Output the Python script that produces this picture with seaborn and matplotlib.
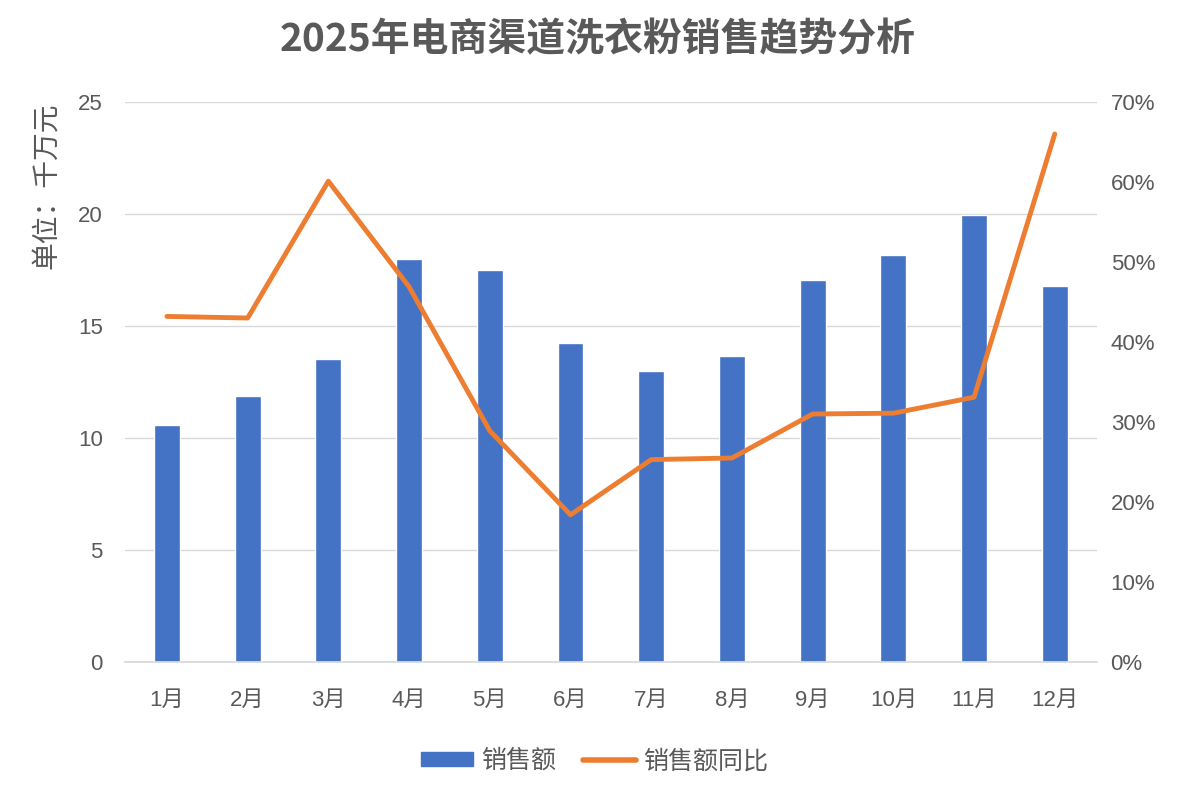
import pandas as pd
import matplotlib.pyplot as plt
import seaborn as sns
from matplotlib.patches import Patch
from matplotlib.lines import Line2D
from matplotlib.ticker import PercentFormatter

months = ['1月', '2月', '3月', '4月', '5月', '6月', '7月', '8月', '9月', '10月', '11月', '12月']
sales = [10.58, 11.88, 13.53, 17.99, 17.5, 14.24, 12.99, 13.66, 17.05, 18.17, 19.96, 16.79]
yoy = [43.2, 43.0, 60.1, 46.9, 28.9, 18.4, 25.3, 25.5, 31.0, 31.1, 33.1, 66.0]

data = pd.DataFrame({'month': months, 'sales': sales, 'yoy': yoy})

sns.set_theme(style='white')
plt.rcParams['font.family'] = ['Liberation Sans', 'Noto Sans CJK SC', 'DejaVu Sans']

blue = '#4472C4'
orange = '#ED7D31'
grey = '#595959'
cjk = ['Noto Sans CJK SC', 'DejaVu Sans']

fig = plt.figure(figsize=(11.96, 7.97), dpi=100)
ax = fig.add_axes([0.1045, 0.1694, 0.8125, 0.7026])

sns.barplot(x='month', y='sales', data=data, color=blue, width=0.32, ax=ax, saturation=1)
ax.set_ylim(0, 25)
ax.set_yticks([0, 5, 10, 15, 20, 25])
ax.set_xlim(-0.52, 11.52)
ax.yaxis.grid(True, color='#D9D9D9', linewidth=1)
ax.set_axisbelow(True)
ax.set_xlabel('')
ax.set_ylabel('单位：千万元', fontsize=20, color=grey, labelpad=12, loc='top', family=cjk)
ax.tick_params(axis='both', labelsize=16, colors=grey, length=0)
ax.tick_params(axis='x', pad=20)
ax.tick_params(axis='y', pad=16)
for s in ax.spines.values():
    s.set_visible(False)
ax.spines['bottom'].set_visible(True)
ax.spines['bottom'].set_color('#D9D9D9')

ax2 = ax.twinx()
sns.lineplot(x='month', y='yoy', data=data, color=orange, linewidth=3.5, sort=False, ax=ax2)
ax2.set_ylim(0, 70)
ax2.set_yticks([0, 10, 20, 30, 40, 50, 60, 70])
ax2.yaxis.set_major_formatter(PercentFormatter(decimals=0))
ax2.set_ylabel('')
ax2.tick_params(axis='y', labelsize=16, colors=grey, length=0, pad=10)
for s in ax2.spines.values():
    s.set_visible(False)

fig.suptitle('2025年电商渠道洗衣粉销售趋势分析', fontsize=28, fontweight='bold', color=grey, y=0.975,
             family=cjk)

handles = [Patch(color=blue, label='销售额'),
           Line2D([0], [0], color=orange, linewidth=4, solid_capstyle='round', label='销售额同比')]
fig.legend(handles=handles, loc='center', bbox_to_anchor=(0.497, 0.045), ncol=2, frameon=False,
           prop={'family': cjk, 'size': 18}, labelcolor=grey, handlelength=2.1, handleheight=0.5,
           columnspacing=1.1, handletextpad=0.3)

fig.savefig('out.png', dpi=100)
